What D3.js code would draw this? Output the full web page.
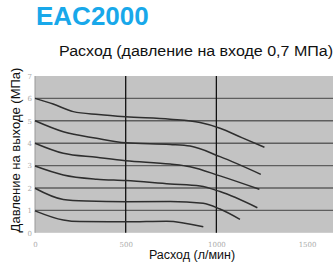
<!DOCTYPE html>
<html><head><meta charset="utf-8">
<script src="https://cdn.jsdelivr.net/npm/d3@7"></script>
<style>body{margin:0;background:#fff}svg{display:block}</style>
</head><body>
<script>
const title = "EAC2000";
const subtitle = "Расход (давление на входе 0,7 МПа)";
const xLabel = "Расход (л/мин)";
const yLabel = "Давление на выходе (МПа)";
const xTicks = [0, 500, 1000, 1500];
const yTicks = [0, 1, 2, 3, 4, 5, 6, 7];
const xGrid = [500, 1000];
const yGrid = [1, 2, 3, 4, 5, 6];

const flow1 = [0, 100, 211, 350, 500, 745, 910, 1020, 1140, 1265];
const pres1 = [6, 5.75, 5.41, 5.28, 5.18, 5.07, 4.92, 4.67, 4.25, 3.82];
const flow2 = [0, 156, 340, 500, 745, 855, 1020, 1245];
const pres2 = [5, 4.51, 4.22, 4.02, 3.94, 3.87, 3.40, 2.61];
const flow3 = [0, 156, 340, 500, 745, 855, 1020, 1237];
const pres3 = [4, 3.55, 3.37, 3.22, 3.07, 2.95, 2.54, 1.94];
const flow4 = [0, 156, 340, 500, 745, 910, 1020, 1226];
const pres4 = [2.98, 2.58, 2.39, 2.33, 2.18, 2.09, 1.84, 1.12];
const flow5 = [0, 156, 285, 500, 745, 927, 1020, 1130];
const pres5 = [1.99, 1.49, 1.42, 1.39, 1.40, 1.32, 1.06, 0.60];
const flow6 = [0, 156, 248, 500, 726, 928];
const pres6 = [0.98, 0.57, 0.50, 0.49, 0.52, 0.27];

const series = [[flow1,pres1],[flow2,pres2],[flow3,pres3],[flow4,pres4],[flow5,pres5],[flow6,pres6]];

const W = 336, H = 265;
const svg = d3.select("body").append("svg").attr("width", W).attr("height", H);
const m = {left: 35, right: 333, top: 76, bottom: 232.8};
const x = d3.scaleLinear().domain([0, 1643]).range([m.left, m.right]);
const y = d3.scaleLinear().domain([0, 7]).range([m.bottom, m.top]);
const FF = "Liberation Sans, Arial, sans-serif";

svg.append("text").attr("x", 36).attr("y", 25).attr("font-family", FF)
  .attr("font-weight", "bold").attr("font-size", 26).attr("fill", "#18a8ea").text(title);
svg.append("text").attr("x", 59).attr("y", 56).attr("font-family", FF)
  .attr("font-size", 14).attr("fill", "#111").attr("textLength", 274).attr("lengthAdjust", "spacingAndGlyphs").text(subtitle);

svg.append("rect").attr("x", m.left).attr("y", m.top).attr("width", m.right - m.left).attr("height", m.bottom - m.top)
  .attr("fill", "#c3c3c3");
svg.append("line").attr("x1", m.left).attr("x2", m.left).attr("y1", m.top).attr("y2", m.bottom)
  .attr("stroke", "#999").attr("stroke-width", 1);

svg.selectAll(".hg").data(yGrid).enter().append("line")
  .attr("x1", m.left).attr("x2", m.right).attr("y1", d => y(d)).attr("y2", d => y(d))
  .attr("stroke", "#5e5e5e").attr("stroke-width", 1.4);
svg.selectAll(".vg").data(xGrid).enter().append("line")
  .attr("x1", d => x(d)).attr("x2", d => x(d)).attr("y1", m.top).attr("y2", m.bottom)
  .attr("stroke", "#111").attr("stroke-width", 1.3);

const line = d3.line().x(d => x(d[0])).y(d => y(d[1])).curve(d3.curveMonotoneX);
series.forEach(([f, p]) => {
  svg.append("path").attr("d", line(f.map((v, i) => [v, p[i]])))
    .attr("fill", "none").attr("stroke", "#2e2e2e").attr("stroke-width", 1.5);
});

const yAxis = d3.axisLeft(y).tickValues(yTicks).tickFormat(d3.format("d")).tickSize(0).tickPadding(3);
const ga = svg.append("g").attr("transform", `translate(${m.left},0)`).call(yAxis);
ga.select(".domain").remove();
ga.selectAll("text").attr("font-size", 7).attr("fill", "#aaa").attr("font-family", "DejaVu Serif, serif");

const xAxis = d3.axisBottom(x).tickValues(xTicks).tickFormat(d3.format("d")).tickSize(0).tickPadding(9);
const gx = svg.append("g").attr("transform", `translate(0,${m.bottom})`).call(xAxis);
gx.select(".domain").remove();
gx.selectAll("text").attr("font-size", 7).attr("fill", "#aaa").attr("font-family", "DejaVu Serif, serif");

svg.append("text").attr("x", 192).attr("y", 259).attr("text-anchor", "middle")
  .attr("font-family", FF).attr("font-size", 12.5).attr("fill", "#111").text(xLabel);
svg.append("text").attr("transform", "translate(20,150) rotate(-90)").attr("text-anchor", "middle")
  .attr("font-family", FF).attr("font-size", 13).attr("fill", "#111").text(yLabel);
</script>
</body></html>
